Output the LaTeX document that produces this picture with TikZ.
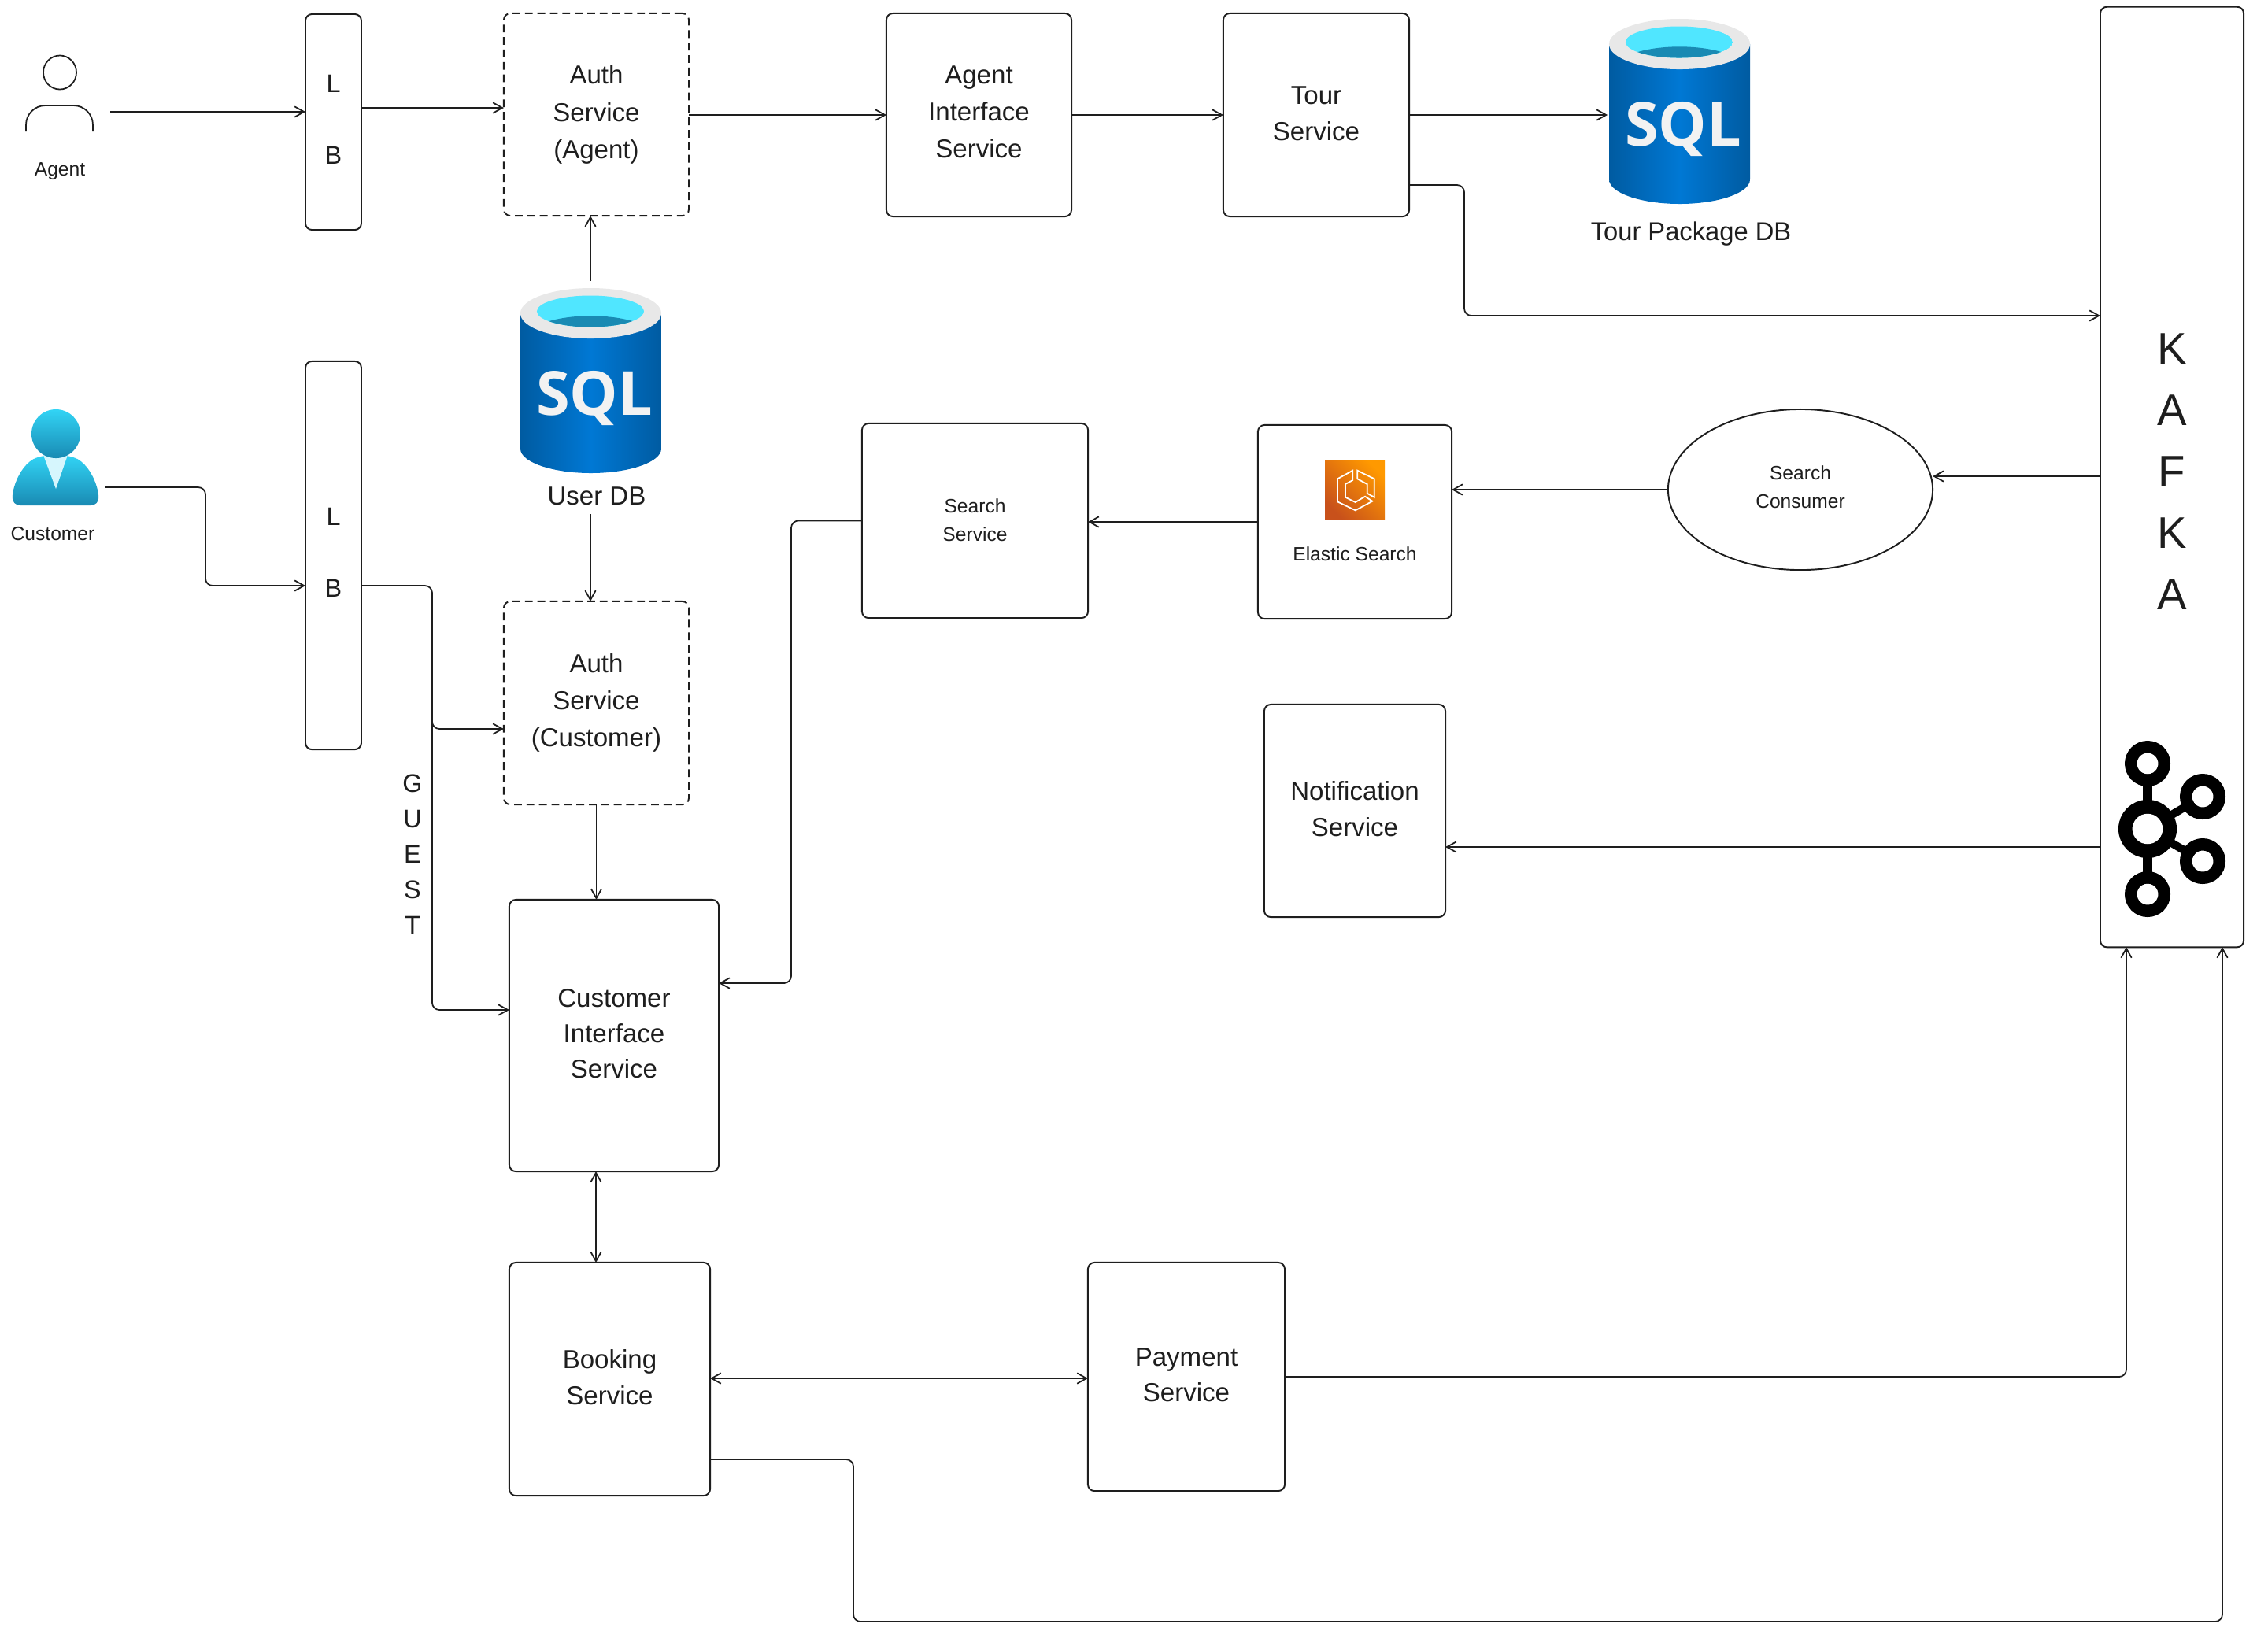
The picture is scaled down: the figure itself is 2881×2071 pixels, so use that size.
\documentclass[tikz,border=0pt]{standalone}
\usepackage{fontspec}
\setmainfont{Liberation Sans}
\newfontfamily\sqlfont{Open Sans}
\usetikzlibrary{arrows.meta,shapes.geometric}
\definecolor{ink}{HTML}{1E1E1E}
\tikzset{
  x=0.01cm,y=-0.01cm,
  box/.style={draw=ink,line width=0.55pt,rounded corners=2.4pt,fill=white,align=center,text=ink,inner sep=0pt,outer sep=0pt,font=\fontsize{9.4}{12.9}\selectfont},
  dashbox/.style={box,dash pattern=on 2.8pt off 1.7pt,font=\fontsize{9.4}{13.4}\selectfont},
  small/.style={font=\fontsize{7}{10}\selectfont},
  conn/.style={draw=ink,line width=0.5pt,rounded corners=2.6pt,-{Straight Barb[length=3.4pt,width=3.8pt,line width=0.5pt]}},
  bothconn/.style={conn,{Straight Barb[length=3.4pt,width=3.8pt,line width=0.5pt]}-{Straight Barb[length=3.4pt,width=3.8pt,line width=0.5pt]}},
  lbl/.style={text=ink,align=center,inner sep=0pt,outer sep=0pt},
  kring/.style={draw=black,line width=4.4pt},
}
\newcommand{\sqldb}[4]{%
  \begin{scope}[shift={(#1,#2)}]
    \shade[left color=#4,right color=#4,middle color=sqlmid]
      (0,32) -- (0,204) .. controls (0,221) and (40.5,235) .. (89.5,235) .. controls (138.5,235) and (179,221) .. (179,204) -- (179,32) -- cycle;
    \fill[sqlrim] (89.5,32) ellipse [x radius=0.895cm,y radius=0.32cm];
    \begin{scope}
      \clip (89,29.5) ellipse [x radius=0.68cm,y radius=0.20cm];
      \fill[sqlwater] (89,29.5) ellipse [x radius=0.68cm,y radius=0.20cm];
      \fill[sqldeep] (89.5,65.3) ellipse [x radius=0.84cm,y radius=0.30cm];
    \end{scope}
    \node[anchor=base,inner sep=0pt,text=sqltext,font=\sqlfont\bfseries\fontsize{22}{24}\selectfont] (#3) at (94,161) {SQL};
  \end{scope}}
\definecolor{sqledge}{HTML}{005BA1}
\definecolor{sqlmid}{HTML}{0078D4}
\definecolor{sqlrim}{HTML}{E8E8E8}
\definecolor{sqlwater}{HTML}{50E6FF}
\definecolor{sqldeep}{HTML}{198AB3}
\definecolor{sqltext}{HTML}{F2F2F2}
\definecolor{custtop}{HTML}{32D4F5}
\definecolor{custbot}{HTML}{198AB3}
\definecolor{esdark}{HTML}{C8511B}
\definecolor{eslight}{HTML}{FF9900}
\begin{document}
\begin{tikzpicture}
\useasboundingbox[fill=white] (0,0) rectangle (2881,2071);

% ---- boxes
\node[box,minimum width=0.71cm,minimum height=2.74cm,font=\fontsize{9.2}{25.9}\selectfont] (lbA) at (423.5,155) {L\\B\\[-23.9pt]};
\node[dashbox,minimum width=2.35cm,minimum height=2.57cm] (authA) at (757.5,145.5) {Auth\\Service\\(Agent)};
\node[box,font=\fontsize{9.4}{13.4}\selectfont,minimum width=2.35cm,minimum height=2.58cm] (agentSvc) at (1243.5,146) {Agent\\Interface\\Service\\[-11.4pt]};
\node[box,minimum width=2.36cm,minimum height=2.58cm] (tour) at (1672,146) {Tour\\Service\\[-11.9pt]};
\node[box,minimum width=1.82cm,minimum height=11.94cm,font=\fontsize{16}{22.2}\selectfont] (kafka) at (2759,606) {K\\A\\F\\K\\A\\[-18.2pt]};
\node[box,minimum width=0.71cm,minimum height=4.93cm,font=\fontsize{9.2}{25.9}\selectfont] (lbC) at (423.5,705.5) {L\\B\\[-23.9pt]};
\node[dashbox,minimum width=2.35cm,minimum height=2.58cm] (authC) at (757.5,893) {Auth\\Service\\(Customer)};
\node[box,minimum width=2.66cm,minimum height=3.45cm] (cis) at (780,1315.5) {Customer\\Interface\\Service\\[-11.4pt]};
\node[box,minimum width=2.55cm,minimum height=2.96cm] (book) at (774.5,1752) {Booking\\Service\\[-11.4pt]};
\node[box,minimum width=2.5cm,minimum height=2.9cm] (pay) at (1507,1749) {Payment\\Service\\[-11.4pt]};
\node[box,small,minimum width=2.87cm,minimum height=2.47cm] (search) at (1238.5,661.5) {Search\\Service\\[-9.5pt]};
\node[box,minimum width=2.46cm,minimum height=2.46cm] (elastic) at (1721,663) {};
\node[box,small,ellipse,minimum width=3.36cm,minimum height=2.04cm] (consumer) at (2287,622) {Search\\Consumer\\[-8pt]};
\node[box,minimum width=2.3cm,minimum height=2.7cm] (notif) at (1721,1030) {Notification\\Service\\[-11.4pt]};

% ---- labels
\node[lbl,small] (agentLbl) at (76,218) {Agent};
\node[lbl,small] (custLbl) at (67,678) {Customer};
\node[lbl,small] (esLbl) at (1721,704) {Elastic Search};
\node[lbl,font=\fontsize{9.4}{12}\selectfont] (userLbl) at (758,630) {User DB};
\node[lbl,font=\fontsize{9.3}{12}\selectfont] (tourLbl) at (2148,297) {Tour Package DB};
\node[lbl,font=\fontsize{9.2}{12.8}\selectfont] (guest) at (524,1085) {G\\U\\E\\S\\T};

% ---- SQL cylinders
\sqldb{661}{366}{userDb}{sqledge}
\sqldb{2044}{24}{tourDb}{sqledge}

% ---- agent icon
\draw[ink,line width=0.5pt] (76,92) ellipse [x radius=0.21cm,y radius=0.215cm];
\draw[ink,line width=0.5pt,rounded corners=7pt] (33,167) -- (33,134) -- (118,134) -- (118,167);

% ---- customer icon
\shade[top color=custtop,bottom color=custbot,rounded corners=3pt]
  (15,642) .. controls (17,612) and (30,588) .. (55,578) -- (86,578) .. controls (111,588) and (124,612) .. (126,642) -- cycle;
\fill[white!80!custtop] (55,578) -- (86,578) -- (71,621) -- cycle;
\shade[top color=custtop,bottom color=custbot] (71,551) ellipse [x radius=0.31cm,y radius=0.31cm];

% ---- elastic icon
\shade[bottom color=esdark,top color=eslight,shading angle=-45] (1683,584) rectangle (1759,660);
\draw[white,line width=0.5pt] (1718.3,597.7) -- (1699,608.3) -- (1699,637.3) -- (1721.7,648.3) -- (1743.3,636.7) -- (1734,630.7) -- (1721.7,638) -- (1709,631.7) -- (1709,615) -- (1718.3,610) -- cycle;
\draw[white,line width=0.5pt] (1724.3,597.7) -- (1745.7,608.3) -- (1745.7,631.7) -- (1736.7,626.7) -- (1736.7,615) -- (1724.3,608.3) -- cycle;

% ---- kafka logo
\draw[black,line width=3.4pt] (2728,970) -- (2728,1136);
\draw[black,line width=2.9pt] (2728,1053) -- (2798,1012);
\draw[black,line width=2.9pt] (2728,1053) -- (2798,1094);
\fill[white] (2728,970) circle [radius=0.135cm] (2728,1136) circle [radius=0.135cm] (2798,1012) circle [radius=0.135cm] (2798,1094) circle [radius=0.135cm] (2728,1053) circle [radius=0.195cm];
\draw[kring] (2728,970) circle [radius=0.2125cm];
\draw[kring] (2728,1136) circle [radius=0.2125cm];
\draw[kring] (2798,1012) circle [radius=0.2125cm];
\draw[kring] (2798,1094) circle [radius=0.2125cm];
\draw[kring,line width=5pt] (2728,1053) circle [radius=0.2825cm];

% ---- free connector ends
\coordinate (agentOut) at (140,142);
\coordinate (custOut) at (133,619);
\coordinate (dbTopEnd) at (750,357);
\coordinate (dbLblEnd) at (750,653);
\coordinate (tourDbIn) at (2042,146);

% ---- connectors
\draw[conn] (agentOut) -- (agentOut -| lbA.west);
\draw[conn] (lbA.east |- 0,137) -- (authA.west |- 0,137);
\draw[conn] (authA.east |- agentSvc.west) -- (agentSvc.west);
\draw[conn] (agentSvc.east) -- (tour.west);
\draw[conn] (tour.east) -- (tourDbIn);
\draw[conn] (tour.east |- 0,235) -- (1860,235) -- (1860,401) -- (kafka.west |- 0,401);
\draw[conn] (dbTopEnd) -- (dbTopEnd |- authA.south);
\draw[conn] (dbLblEnd) -- (dbLblEnd |- authC.north);
\draw[conn] (custOut) -- (261,619) -- (261,744) -- (lbC.west |- 0,744);
\draw[conn] (lbC.east |- 0,744) -- (549,744) -- (549,926) -- (authC.west |- 0,926);
\draw[conn] (549,900) -- (549,1283) -- (cis.west |- 0,1283);
\draw[conn] (authC.south) -- (authC.south |- cis.north);
\draw[conn] (search.west) -- (1005,661.5) -- (1005,1249) -- (cis.east |- 0,1249);
\draw[conn] (elastic.west) -- (search.east |- elastic.west);
\draw[conn] (consumer.west) -- (elastic.east |- consumer.west);
\draw[conn] (kafka.west |- 0,605) -- (consumer.east |- 0,605);
\draw[conn] (kafka.west |- 0,1076) -- (notif.east |- 0,1076);
\draw[bothconn] (757,1488) -- (757,1604);
\draw[bothconn] (book.east |- 0,1751) -- (pay.west |- 0,1751);
\draw[conn] (pay.east) -- (2701,1749) -- (2701,1203);
\draw[conn] (book.east |- 0,1854) -- (1084,1854) -- (1084,2060) -- (2823,2060) -- (2823,1203);
\end{tikzpicture}
\end{document}
